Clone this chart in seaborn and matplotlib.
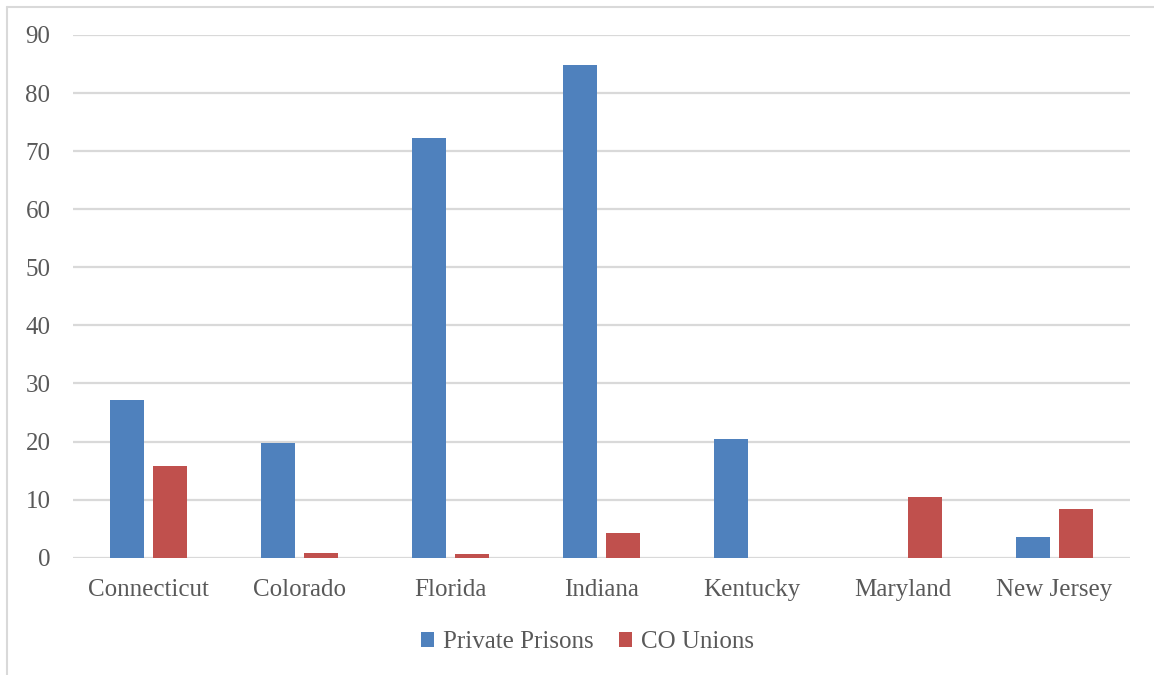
import matplotlib
matplotlib.use("Agg")
import matplotlib.pyplot as plt
from matplotlib.patches import Patch
from matplotlib.lines import Line2D
import seaborn as sns
import pandas as pd

states = ["Connecticut", "Colorado", "Florida", "Indiana", "Kentucky", "Maryland", "New Jersey"]
private_prisons = [27.1, 19.8, 72.2, 84.8, 20.5, 0.0, 3.5]
co_unions = [15.8, 0.85, 0.6, 4.3, 0.0, 10.4, 8.3]
series_names = ["Private Prisons", "CO Unions"]
colors = ["#4F81BD", "#C0504D"]
y_ticks = [0, 10, 20, 30, 40, 50, 60, 70, 80, 90]

df = pd.DataFrame({
    "State": states * 2,
    "Series": [series_names[0]] * len(states) + [series_names[1]] * len(states),
    "Value": private_prisons + co_unions,
})

sns.set_theme(style="white")
plt.rcParams["font.family"] = ["Liberation Serif", "DejaVu Serif"]
text_color = "#595959"

fig = plt.figure(figsize=(11.54, 6.75), dpi=100)
ax = fig.add_axes([0.063, 0.1738, 0.916, 0.7744])

sns.barplot(data=df, x="State", y="Value", hue="Series", order=states,
            hue_order=series_names, palette=colors, width=0.57, gap=0.21,
            saturation=1, edgecolor="none", legend=False, ax=ax)

ax.set_ylim(0, 90)
ax.set_xlim(-0.5, len(states) - 0.5)
ax.set_yticks(y_ticks)
ax.set_yticklabels([str(t) for t in y_ticks])
ax.yaxis.grid(True, color="#D9D9D9", linewidth=1.6)
ax.set_axisbelow(True)
for s in ax.spines.values():
    s.set_visible(False)
ax.set_xlabel("")
ax.set_ylabel("")
ax.tick_params(axis="both", length=0, labelsize=18, colors=text_color)
ax.tick_params(axis="y", pad=16)
ax.tick_params(axis="x", pad=15)

handles = [Patch(facecolor=c, edgecolor="none") for c in colors]
fig.legend(handles, series_names, loc="center", bbox_to_anchor=(0.509, 1 - 642 / 675),
           ncol=2, frameon=False, fontsize=18, labelcolor=text_color,
           handlelength=0.55, handleheight=0.55, handletextpad=0.35, columnspacing=1.0)

# outer chart border
fig.add_artist(Line2D([7 / 1154, 7 / 1154], [0, 1 - 7 / 675], transform=fig.transFigure,
                      color="#D9D9D9", linewidth=1.5))
fig.add_artist(Line2D([7 / 1154, 1], [1 - 7 / 675, 1 - 7 / 675], transform=fig.transFigure,
                      color="#D9D9D9", linewidth=1.5))

fig.savefig("out.png", dpi=100, facecolor="white")
